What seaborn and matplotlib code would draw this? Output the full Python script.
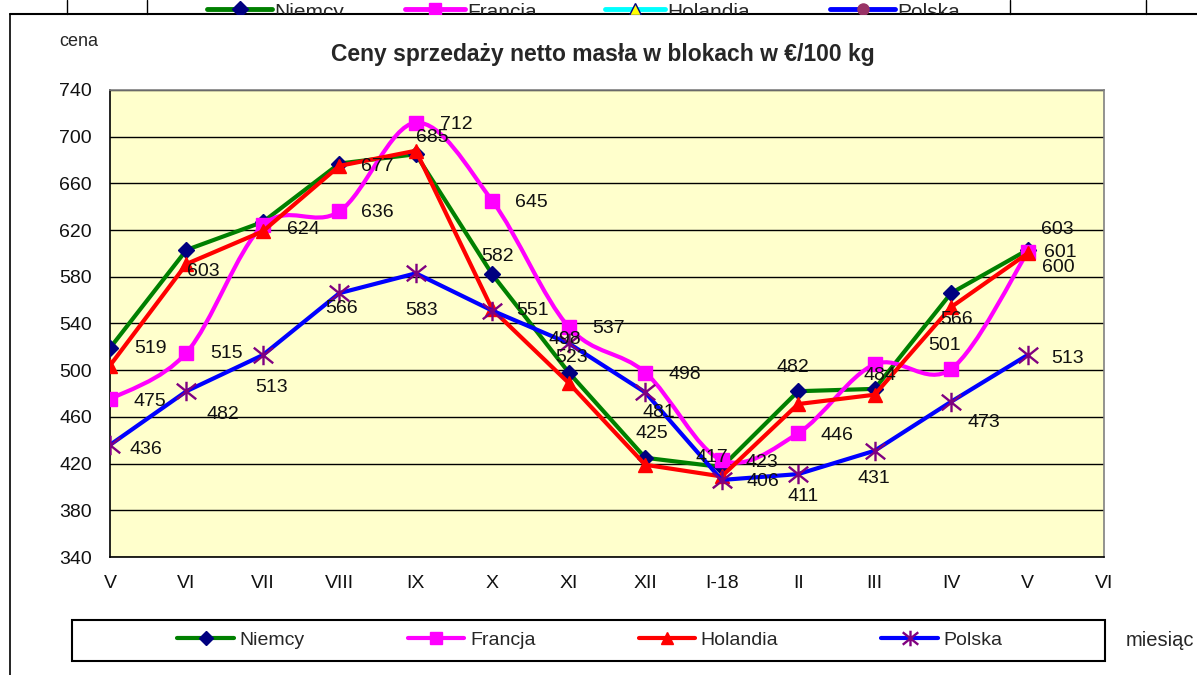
import numpy as np
import pandas as pd
import matplotlib
matplotlib.use("Agg")
import matplotlib.pyplot as plt
import seaborn as sns
from matplotlib.path import Path
from matplotlib.patches import PathPatch, Rectangle
from matplotlib.lines import Line2D
from matplotlib.transforms import Bbox, TransformedBbox

W, H = 1197, 675

# dane z wykresu (ceny w EUR/100 kg)
months = ["V", "VI", "VII", "VIII", "IX", "X", "XI", "XII", "I-18", "II", "III", "IV", "V", "VI"]
niemcy = [519, 603, 627, 677, 685, 582, 498, 425, 417, 482, 484, 566, 603]
francja = [475, 515, 624, 636, 712, 645, 537, 498, 423, 446, 505, 501, 601]
holandia = [504, 591, 619, 675, 688, 552, 489, 419, 409, 471, 479, 554, 600]
polska = [436, 482, 513, 566, 583, 551, 523, 481, 406, 411, 431, 473, 513]
series_names = ["Niemcy", "Francja", "Holandia", "Polska"]

# przesuniecia etykiet danych (piksele, dy w dol), None = brak etykiety
off_niemcy = [(40, 0), (17, 22), None, (38, 3), (16, -17), (5, -18), (-4, -33),
              (7, -24), (-10, -10), (-5, -24), (5, -13), (5, 26), (30, -20)]
off_francja = [(40, 2), (40, 1), (40, 4), (38, 1), (40, 2), (39, 2), (40, 1),
               (40, 2), (40, 2), (39, 2), None, (-7, -24), (33, 0)]
off_holandia = [None] * 12 + [(31, 14)]
off_polska = [(36, 5), (36, 23), (9, 32), (2, 15), (6, 37), (40, 0), (3, 14),
              (14, 20), (41, 2), (5, 22), (-1, 28), (33, 21), (40, 3)]

star = Path([(-1, -0.8), (1, 0.8), (-1, 0.8), (1, -0.8), (0, -1), (0, 1)],
            [Path.MOVETO, Path.LINETO, Path.MOVETO, Path.LINETO, Path.MOVETO, Path.LINETO])

styles = {
    "Niemcy":   dict(color="#008000", marker="D", ms=8.5, mfc="#000080", mec="#000080", mew=1),
    "Francja":  dict(color="#FF00FF", marker="s", ms=10, mfc="#FF00FF", mec="#FF00FF", mew=1),
    "Holandia": dict(color="#FF0000", marker="^", ms=10, mfc="#FF0000", mec="#FF0000", mew=1),
    "Polska":   dict(color="#0000FF", marker=star, ms=14, mfc="none", mec="#800080", mew=1.7),
}

sns.set_style("white")
plt.rcParams['font.family'] = ['Liberation Sans', 'DejaVu Sans']

fig = plt.figure(figsize=(W / 100, H / 100), dpi=100)
ax = fig.add_axes([110 / W, 1 - 557 / H, (1104 - 110) / W, (557 - 90) / H])
ax.set_zorder(3)
ax.set_facecolor('#FFFFCC')

x = np.arange(len(niemcy))
values = {"Niemcy": niemcy, "Francja": francja, "Holandia": holandia, "Polska": polska}
offsets = {"Niemcy": off_niemcy, "Francja": off_francja, "Holandia": off_holandia, "Polska": off_polska}

for k, name in enumerate(series_names):
    st = styles[name]
    df = pd.DataFrame({"miesiac": x, "cena": values[name]})
    if name == "Francja":
        # linia wygladzona (Bezier jak w Excelu)
        pts = df[["miesiac", "cena"]].to_numpy(dtype=float)
        ext = np.vstack([pts[0], pts, pts[-1]])
        verts, codes = [pts[0]], [Path.MOVETO]
        for i in range(len(pts) - 1):
            p0, p1, p2, p3 = ext[i], ext[i + 1], ext[i + 2], ext[i + 3]
            verts += [p1 + (p2 - p0) / 6, p2 - (p3 - p1) / 6, p2]
            codes += [Path.CURVE4] * 3
        ax.add_patch(PathPatch(Path(verts, codes), fc="none", ec=st["color"], lw=3,
                               zorder=3 + k, transform=ax.transData))
        sns.lineplot(data=df, x="miesiac", y="cena", ax=ax, linestyle="none",
                     marker=st["marker"], ms=st["ms"], mfc=st["mfc"], mec=st["mec"],
                     mew=st["mew"], zorder=3 + k)
    else:
        sns.lineplot(data=df, x="miesiac", y="cena", ax=ax, color=st["color"], lw=3,
                     marker=st["marker"], ms=st["ms"], mfc=st["mfc"], mec=st["mec"],
                     mew=st["mew"], zorder=3 + k)
    for xi, v, off in zip(x, values[name], offsets[name]):
        if off is None:
            continue
        ax.annotate(str(v), (xi, v), xytext=(off[0], -off[1]), textcoords='offset pixels',
                    ha='center', va='center', fontsize=14, color='#111111', zorder=10)

ax.set_xlim(0, len(months) - 1)
ax.set_ylim(340, 740)
ax.set_xticks(np.arange(len(months)))
ax.set_xticklabels(months)
ax.set_yticks(np.arange(340, 741, 40))
ax.set_xlabel("")
ax.set_ylabel("")
ax.yaxis.grid(True, color='black', lw=1)
ax.xaxis.grid(False)
ax.set_axisbelow(True)
ax.tick_params(axis='both', direction='out', length=6, width=1, color='black',
               labelsize=14, labelcolor='#111111')
ax.tick_params(axis='y', pad=7)
ax.tick_params(axis='x', pad=7)
for s in ["left", "bottom"]:
    ax.spines[s].set_color('black')
    ax.spines[s].set_linewidth(1.2)
for s in ["top", "right"]:
    ax.spines[s].set_color('#808080')
    ax.spines[s].set_linewidth(1.2)

# teksty
fig.text(603 / W, 1 - 55 / H, "Ceny sprzedaży netto masła w blokach w €/100 kg",
         ha='center', va='center', fontsize=16.5, fontweight='bold')
fig.text(79 / W, 1 - 42 / H, "cena", ha='center', va='center', fontsize=13)
fig.text(1126 / W, 1 - 640 / H, "miesiąc", ha='left', va='center', fontsize=14.5)

# legenda
handles = []
for name in series_names:
    st = styles[name]
    handles.append(Line2D([], [], color=st["color"], lw=3, marker=st["marker"],
                          ms=st["ms"] * 0.8, mfc=st["mfc"], mec=st["mec"], mew=st["mew"]))
fig.legend(handles, series_names, loc='center', bbox_to_anchor=(590 / W, 1 - 640 / H),
           ncol=4, frameon=False, fontsize=14, handlelength=2.9, handletextpad=0.3,
           columnspacing=5.3)
fig.patches.append(Rectangle((72 / W, 1 - 661 / H), (1105 - 72) / W, (661 - 620) / H,
                             transform=fig.transFigure, fc='none', ec='black', lw=1.5))

# ramka obszaru wykresu i ucięty fragment wykresu powyzej
fig.lines.append(Line2D([10 / W, 1], [1 - 14 / H] * 2, transform=fig.transFigure, color='black', lw=1.5))
fig.lines.append(Line2D([10 / W] * 2, [0, 1 - 14 / H], transform=fig.transFigure, color='black', lw=1.2))
for xv in [67, 147, 1010, 1146]:
    fig.lines.append(Line2D([xv / W] * 2, [1 - 14 / H, 1], transform=fig.transFigure, color='black', lw=1))

clip = TransformedBbox(Bbox([[0, 1 - 14 / H], [1, 1]]), fig.transFigure)
strip = [("Niemcy", 207, 272, "#008000", "D", "#000080", "#000080"),
         ("Francja", 405, 465, "#FF00FF", "s", "#FF00FF", "#FF00FF"),
         ("Holandia", 605, 665, "#00FFFF", "^", "#FFFF00", "#000080"),
         ("Polska", 830, 895, "#0000FF", "o", "#993366", "#993366")]
for lab, x0, x1, col, mk, fc, ec in strip:
    ln = Line2D([x0 / W, x1 / W], [1 - 9 / H] * 2, transform=fig.transFigure, color=col, lw=3.5)
    ln.set_clip_box(clip)
    fig.lines.append(ln)
    mkl = Line2D([(x0 + x1) / 2 / W], [1 - 9 / H], transform=fig.transFigure, marker=mk, ms=8,
                 mfc=fc, mec=ec, ls='none')
    mkl.set_clip_box(clip)
    fig.lines.append(mkl)
    t = fig.text((x1 + 2) / W, 1 - 18 / H, lab, ha='left', va='baseline', fontsize=15)
    t.set_clip_box(clip)
    t.set_clip_on(True)

fig.savefig("out.png", dpi=100)
